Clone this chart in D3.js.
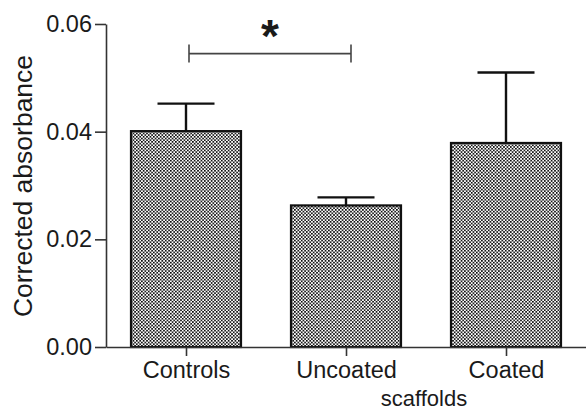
<!DOCTYPE html>
<html>
<head>
<meta charset="utf-8">
<script src="https://cdn.jsdelivr.net/npm/d3@7"></script>
<style>
  body { margin: 0; background: #fff; }
  text { font-family: "Liberation Sans", Arial, sans-serif; fill: #1a1a1a; }
</style>
</head>
<body>
<svg id="chart"></svg>
<script>
var width = 586;
var height = 412;

// data
var categories = ["Controls", "Uncoated", "Coated"];
var means = [0.0401, 0.0263, 0.0379];
var errors = [0.0051, 0.0015, 0.0131];
var yTicks = [0.00, 0.02, 0.04, 0.06];
var sigPair = ["Controls", "Uncoated"];
var sigY = 0.0545;

var svg = d3.select("#chart")
    .attr("width", width)
    .attr("height", height);

var xScale = d3.scalePoint()
    .domain(categories)
    .range([106, 586])
    .padding(0.5);

var yScale = d3.scaleLinear()
    .domain([0, 0.06])
    .range([347, 24]);

var barWidth = 110;
var capWidth = 57;

// checkered fill
var defs = svg.append("defs");
var pat = defs.append("pattern")
    .attr("id", "checks")
    .attr("patternUnits", "userSpaceOnUse")
    .attr("width", 3.4)
    .attr("height", 3.4);
pat.append("rect").attr("width", 3.4).attr("height", 3.4).attr("fill", "#fff");
pat.append("rect").attr("width", 1.6).attr("height", 1.6).attr("fill", "#000");
pat.append("rect").attr("x", 1.7).attr("y", 1.7).attr("width", 1.6).attr("height", 1.6).attr("fill", "#000");

// error bars (drawn under the bars)
var err = svg.append("g").attr("stroke", "#111").attr("stroke-width", 2.4);
err.selectAll("line.stem")
  .data(categories)
  .enter()
  .append("line")
  .attr("class", "stem")
  .attr("x1", function(d) { return xScale(d); })
  .attr("x2", function(d) { return xScale(d); })
  .attr("y1", function(d, i) { return yScale(means[i]); })
  .attr("y2", function(d, i) { return yScale(means[i] + errors[i]); });
err.selectAll("line.cap")
  .data(categories)
  .enter()
  .append("line")
  .attr("class", "cap")
  .attr("x1", function(d) { return xScale(d) - capWidth / 2; })
  .attr("x2", function(d) { return xScale(d) + capWidth / 2; })
  .attr("y1", function(d, i) { return yScale(means[i] + errors[i]); })
  .attr("y2", function(d, i) { return yScale(means[i] + errors[i]); });

svg.selectAll("rect.bar")
  .data(categories)
  .enter()
  .append("rect")
  .attr("class", "bar")
  .attr("x", function(d) { return xScale(d) - barWidth / 2; })
  .attr("y", function(d, i) { return yScale(means[i]); })
  .attr("width", barWidth)
  .attr("height", function(d, i) { return yScale(0) - yScale(means[i]); })
  .attr("fill", "url(#checks)")
  .attr("stroke", "#111")
  .attr("stroke-width", 2.2);

// axes
var yAxis = svg.append("g")
    .attr("transform", "translate(106,0)")
    .call(d3.axisLeft(yScale).tickValues(yTicks).tickFormat(d3.format(".2f")).tickSize(11).tickSizeOuter(0).tickPadding(3));

var xAxis = svg.append("g")
    .attr("transform", "translate(0,347)")
    .call(d3.axisBottom(xScale).tickSize(9).tickSizeOuter(0).tickPadding(5));

svg.selectAll(".domain, .tick line")
  .attr("stroke", "#333")
  .attr("stroke-width", 1.6);
yAxis.selectAll("text").style("font-size", "23.5px").attr("fill", "#1a1a1a");
xAxis.selectAll("text").style("font-size", "23.5px").attr("fill", "#1a1a1a");

svg.append("text")
  .attr("transform", "translate(32,186) rotate(-90)")
  .attr("text-anchor", "middle")
  .style("font-size", "26.5px")
  .text("Corrected absorbance");

svg.append("text")
  .attr("x", 424)
  .attr("y", 406)
  .attr("text-anchor", "middle")
  .style("font-size", "22px")
  .text("scaffolds");

// significance bracket
var sx1 = xScale(sigPair[0]) + 3;
var sx2 = xScale(sigPair[1]) + 5;
var sy = yScale(sigY);
var br = svg.append("g").attr("stroke", "#444").attr("stroke-width", 1.6);
br.append("line").attr("x1", sx1).attr("x2", sx2).attr("y1", sy).attr("y2", sy);
br.append("line").attr("x1", sx1).attr("x2", sx1).attr("y1", sy - 9).attr("y2", sy + 9);
br.append("line").attr("x1", sx2).attr("x2", sx2).attr("y1", sy - 9).attr("y2", sy + 9);

svg.append("text")
  .attr("x", (sx1 + sx2) / 2)
  .attr("y", 52)
  .attr("text-anchor", "middle")
  .style("font-size", "46px")
  .style("font-weight", "bold")
  .text("*");
</script>
</body>
</html>
